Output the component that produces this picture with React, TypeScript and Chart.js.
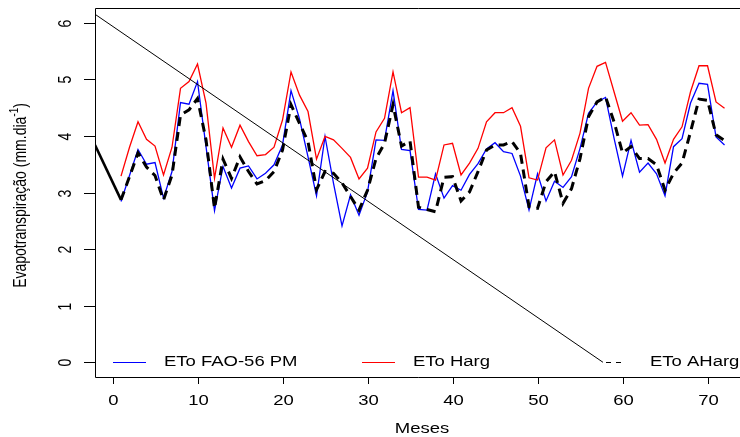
import { useEffect, useRef } from "react";
import { Chart, registerables } from "chart.js";

Chart.register(...registerables);

const months = [
  1, 2, 3, 4, 5, 6, 7, 8, 9, 10, 11, 12, 13, 14, 15, 16, 17, 18, 19, 20, 21, 22, 23, 24,
  25, 26, 27, 28, 29, 30, 31, 32, 33, 34, 35, 36, 37, 38, 39, 40, 41, 42, 43, 44, 45, 46, 47, 48,
  49, 50, 51, 52, 53, 54, 55, 56, 57, 58, 59, 60, 61, 62, 63, 64, 65, 66, 67, 68, 69, 70, 71, 72,
];

const etoFao = [
  2.84, 3.3, 3.76, 3.5, 3.53, 2.9, 3.37, 4.59, 4.56, 4.96, 3.81, 2.68,
  3.46, 3.08, 3.43, 3.47, 3.24, 3.34, 3.49, 3.84, 4.8, 4.3, 3.63, 2.94,
  3.99, 3.16, 2.41, 2.96, 2.6, 3.01, 3.93, 3.92, 4.8, 3.76, 3.74, 2.7,
  2.69, 3.33, 2.9, 3.12, 3.04, 3.32, 3.51, 3.77, 3.88, 3.72, 3.69, 3.29,
  2.69, 3.33, 2.85, 3.2, 3.09, 3.28, 3.78, 4.4, 4.6, 4.68, 3.96, 3.29,
  3.92, 3.36, 3.52, 3.33, 2.94, 3.81, 3.95, 4.58, 4.93, 4.91, 3.98, 3.84,
];

const etoHarg = [
  3.29, 3.8, 4.25, 3.94, 3.82, 3.31, 3.8, 4.84, 4.96, 5.27, 4.58, 3.25,
  4.14, 3.8, 4.19, 3.9, 3.65, 3.67, 3.8, 4.28, 5.13, 4.72, 4.43, 3.59,
  3.99, 3.93, 3.78, 3.62, 3.24, 3.43, 4.07, 4.31, 5.13, 4.41, 4.5, 3.27,
  3.27, 3.22, 3.84, 3.87, 3.31, 3.52, 3.78, 4.25, 4.41, 4.41, 4.5, 4.17,
  3.26, 3.22, 3.79, 3.93, 3.31, 3.57, 4.05, 4.84, 5.23, 5.3, 4.78, 4.26,
  4.41, 4.19, 4.2, 3.94, 3.52, 3.94, 4.16, 4.78, 5.24, 5.24, 4.6, 4.49,
];

const etoAHarg = [
  2.87, 3.28, 3.7, 3.45, 3.3, 2.87, 3.31, 4.37, 4.46, 4.66, 3.93, 2.72,
  3.59, 3.25, 3.63, 3.37, 3.15, 3.21, 3.37, 3.75, 4.55, 4.22, 3.9, 3.05,
  3.37, 3.34, 3.17, 2.93, 2.69, 3.04, 3.6, 3.87, 4.55, 3.82, 3.91, 2.74,
  2.7, 2.66, 3.27, 3.28, 2.85, 3.01, 3.37, 3.75, 3.84, 3.84, 3.9, 3.69,
  2.75, 2.72, 3.19, 3.37, 2.81, 3.07, 3.6, 4.34, 4.6, 4.69, 4.25, 3.7,
  3.81, 3.6, 3.6, 3.49, 3.04, 3.34, 3.52, 4.07, 4.65, 4.63, 4.02, 3.92,
];

// extra segments visible in the original figure
const leadX = [-2.06, 1];
const leadY = [3.84, 2.87];
const diagX = [-2.06, 57.7];
const diagY = [6.15, 0];

const xTicks = [0, 10, 20, 30, 40, 50, 60, 70];
const yTicks = [0, 1, 2, 3, 4, 5, 6];
const legendLabels = ["ETo FAO-56 PM", "ETo Harg", "ETo AHarg"];
const xTitle = "Meses";
const yTitleMain = "Evapotranspiração (mm.dia";
const yTitleSup = "-1";
const yTitleEnd = ")";

const SX = 1.32;
const FONT = "Liberation Sans, Arial, Helvetica, sans-serif";

function pts(xs: number[], ys: number[]) {
  return xs.map((x, i) => ({ x, y: ys[i] }));
}

function sText(
  ctx: CanvasRenderingContext2D,
  text: string,
  x: number,
  y: number,
  align: CanvasTextAlign,
  rotate = false
) {
  ctx.save();
  ctx.translate(x, y);
  ctx.scale(SX, 1);
  if (rotate) ctx.rotate(-Math.PI / 2);
  ctx.textAlign = align;
  ctx.textBaseline = "middle";
  ctx.fillText(text, 0, 0);
  ctx.restore();
}

const axesPlugin = {
  id: "rAxes",
  afterDraw(chart: any) {
    const ctx: CanvasRenderingContext2D = chart.ctx;
    const { left, top, right, bottom } = chart.chartArea;
    const xs = chart.scales.x;
    const ys = chart.scales.y;
    ctx.save();
    ctx.strokeStyle = "#000";
    ctx.fillStyle = "#000";
    ctx.lineWidth = 1;
    // box (right side is off-canvas)
    ctx.beginPath();
    ctx.moveTo(right + 2, top + 0.5);
    ctx.lineTo(left + 0.5, top + 0.5);
    ctx.lineTo(left + 0.5, bottom + 0.5);
    ctx.lineTo(right + 2, bottom + 0.5);
    ctx.stroke();

    ctx.font = `14px ${FONT}`;
    // x ticks
    xTicks.forEach((t) => {
      const px = Math.round(xs.getPixelForValue(t)) + 0.5;
      ctx.beginPath();
      ctx.moveTo(px, bottom);
      ctx.lineTo(px, bottom + 7);
      ctx.stroke();
      sText(ctx, String(t), px, bottom + 24, "center");
    });
    // y ticks
    yTicks.forEach((t) => {
      const py = Math.round(ys.getPixelForValue(t)) + 0.5;
      ctx.beginPath();
      ctx.moveTo(left - 11, py);
      ctx.lineTo(left, py);
      ctx.stroke();
      sText(ctx, String(t), left - 29, py, "center", true);
    });

    // x title
    sText(ctx, xTitle, (left + 749) / 2, bottom + 52, "center");

    // y title with superscript
    ctx.font = `14px ${FONT}`;
    const w1 = ctx.measureText(yTitleMain).width;
    const w3 = ctx.measureText(yTitleEnd).width;
    ctx.font = `10px ${FONT}`;
    const w2 = ctx.measureText(yTitleSup).width;
    const total = w1 + w2 + w3;
    ctx.save();
    ctx.translate(21, (top + bottom) / 2 + 3);
    ctx.scale(SX, 1);
    ctx.rotate(-Math.PI / 2);
    ctx.textBaseline = "middle";
    ctx.textAlign = "left";
    ctx.font = `14px ${FONT}`;
    ctx.fillText(yTitleMain, -total / 2, 0);
    ctx.font = `10px ${FONT}`;
    ctx.fillText(yTitleSup, -total / 2 + w1, -5);
    ctx.font = `14px ${FONT}`;
    ctx.fillText(yTitleEnd, -total / 2 + w1 + w2, 0);
    ctx.restore();

    // legend inside the plot
    const ly = Math.round(ys.getPixelForValue(0)) + 0.5;
    ctx.font = `14px ${FONT}`;
    ctx.lineWidth = 1.2;
    ctx.strokeStyle = "#0000FF";
    ctx.beginPath();
    ctx.moveTo(113, ly);
    ctx.lineTo(146, ly);
    ctx.stroke();
    ctx.fillStyle = "#000";
    sText(ctx, legendLabels[0], 164, ly, "left");

    ctx.strokeStyle = "#FF0000";
    ctx.beginPath();
    ctx.moveTo(362, ly);
    ctx.lineTo(395, ly);
    ctx.stroke();
    sText(ctx, legendLabels[1], 413, ly, "left");

    ctx.strokeStyle = "#000";
    ctx.lineWidth = 1;
    ctx.setLineDash([5, 5]);
    ctx.beginPath();
    ctx.moveTo(606, ly);
    ctx.lineTo(624, ly);
    ctx.stroke();
    ctx.setLineDash([]);
    sText(ctx, legendLabels[2], 650, ly, "left");

    ctx.restore();
  },
};

export default function App() {
  const ref = useRef<HTMLCanvasElement | null>(null);

  useEffect(() => {
    if (!ref.current) return;
    const chart = new Chart(ref.current, {
      type: "scatter",
      data: {
        datasets: [
          {
            label: legendLabels[2],
            data: pts(months, etoAHarg),
            showLine: true,
            borderColor: "#000",
            borderWidth: 3,
            borderDash: [9, 6],
            pointRadius: 0,
            tension: 0,
          },
          {
            label: "lead",
            data: pts(leadX, leadY),
            showLine: true,
            borderColor: "#000",
            borderWidth: 2.6,
            pointRadius: 0,
            tension: 0,
          },
          {
            label: "diag",
            data: pts(diagX, diagY),
            showLine: true,
            borderColor: "#000",
            borderWidth: 1,
            pointRadius: 0,
            tension: 0,
          },
          {
            label: legendLabels[1],
            data: pts(months, etoHarg),
            showLine: true,
            borderColor: "#FF0000",
            borderWidth: 1.3,
            pointRadius: 0,
            tension: 0,
          },
          {
            label: legendLabels[0],
            data: pts(months, etoFao),
            showLine: true,
            borderColor: "#0000FF",
            borderWidth: 1.3,
            pointRadius: 0,
            tension: 0,
          },
        ],
      },
      options: {
        responsive: false,
        animation: false,
        layout: { padding: { left: 95, top: 8, right: 0, bottom: 60 } },
        plugins: { legend: { display: false }, tooltip: { enabled: false } },
        scales: {
          x: { type: "linear", min: -2.06, max: 73.82, display: false },
          y: { type: "linear", min: -0.26, max: 6.26, display: false },
        },
      },
      plugins: [axesPlugin],
    });
    return () => chart.destroy();
  }, []);

  return (
    <div style={{ position: "absolute", left: 0, top: 0, width: 740, height: 437, background: "#fff" }}>
      <canvas ref={ref} width={740} height={437} style={{ display: "block" }} />
    </div>
  );
}
